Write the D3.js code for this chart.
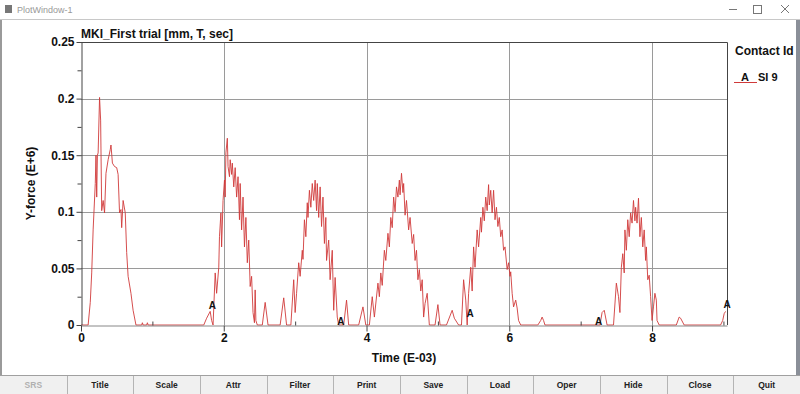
<!DOCTYPE html>
<html>
<head>
<meta charset="utf-8">
<script src="https://cdn.jsdelivr.net/npm/d3@7"></script>
<style>
  body { margin: 0; background: #fff; }
  text { font-family: "Liberation Sans", Arial, sans-serif; }
</style>
</head>
<body>
<div class="my_div"></div>
<script>
// Contact force samples (time in E-03 s, force in E+6)
var timeVals = [0, 0.10, 0.13, 0.15, 0.17, 0.20, 0.21, 0.22, 0.23, 0.24, 0.26, 0.275, 0.29, 0.31, 0.33, 0.35, 0.38, 0.41, 0.42, 0.44,
    0.47, 0.50, 0.52, 0.54, 0.56, 0.57, 0.59, 0.62, 0.64, 0.66, 0.70, 0.73, 0.77, 0.85, 0.86, 0.87, 0.92, 0.93, 0.94, 1.72,
    1.76, 1.81, 1.83, 1.85, 1.88, 1.90, 1.93, 1.94, 1.96, 1.97, 1.99, 2.01, 2.02, 2.03, 2.05, 2.06, 2.08, 2.09, 2.11, 2.12,
    2.14, 2.16, 2.18, 2.20, 2.22, 2.23, 2.25, 2.27, 2.29, 2.31, 2.33, 2.35, 2.37, 2.39, 2.41, 2.43, 2.44, 2.45, 2.47, 2.54,
    2.58, 2.62, 2.79, 2.84, 2.88, 2.94, 2.98, 3.00, 3.02, 3.05, 3.07, 3.10, 3.11, 3.13, 3.15, 3.17, 3.18, 3.20, 3.22, 3.24,
    3.26, 3.28, 3.30, 3.31, 3.33, 3.35, 3.37, 3.39, 3.41, 3.43, 3.44, 3.47, 3.49, 3.52, 3.54, 3.56, 3.59, 3.61, 3.68, 3.72,
    3.75, 3.89, 3.95, 3.99, 4.04, 4.08, 4.11, 4.16, 4.18, 4.20, 4.22, 4.25, 4.27, 4.30, 4.32, 4.34, 4.36, 4.38, 4.40, 4.42,
    4.44, 4.46, 4.47, 4.49, 4.51, 4.52, 4.54, 4.56, 4.59, 4.61, 4.64, 4.66, 4.68, 4.70, 4.72, 4.74, 4.76, 4.78, 4.80, 4.82,
    4.85, 4.88, 4.96, 5.00, 5.03, 5.12, 5.20, 5.23, 5.29, 5.33, 5.36, 5.39, 5.41, 5.43, 5.46, 5.48, 5.50, 5.52, 5.55, 5.57,
    5.60, 5.61, 5.63, 5.65, 5.67, 5.69, 5.71, 5.72, 5.74, 5.76, 5.78, 5.80, 5.82, 5.84, 5.86, 5.88, 5.90, 5.92, 5.94, 5.97,
    5.99, 6.01, 6.02, 6.04, 6.06, 6.09, 6.11, 6.13, 6.16, 6.40, 6.44, 6.46, 6.48, 6.50, 7.27, 7.30, 7.33, 7.37, 7.46, 7.50,
    7.53, 7.55, 7.57, 7.59, 7.61, 7.62, 7.64, 7.66, 7.68, 7.70, 7.72, 7.74, 7.76, 7.77, 7.79, 7.81, 7.83, 7.85, 7.87, 7.89,
    7.91, 7.92, 7.94, 7.96, 7.98, 8.00, 8.02, 8.04, 8.06, 8.07, 8.10, 8.34, 8.38, 8.40, 8.45, 8.96, 8.99, 9.01, 9.03];

var forceVals = [0, 0, 0.020, 0.046, 0.084, 0.125, 0.150, 0.113, 0.150, 0.152, 0.201, 0.181, 0.101, 0.110, 0.099, 0.134, 0.146, 0.155, 0.159, 0.143,
    0.140, 0.139, 0.133, 0.099, 0.102, 0.086, 0.110, 0.099, 0.064, 0.043, 0.028, 0.013, 0, 0, 0.002, 0, 0, 0.002, 0, 0,
    0.006, 0.012, 0.004, 0, 0.046, 0.028, 0.051, 0.078, 0.099, 0.069, 0.110, 0.128, 0.113, 0.152, 0.165, 0.140, 0.131, 0.146, 0.133, 0.143,
    0.122, 0.139, 0.113, 0.131, 0.093, 0.125, 0.084, 0.113, 0.069, 0.095, 0.055, 0.075, 0.034, 0.043, 0.011, 0.002, 0.031, 0.004, 0, 0,
    0.020, 0, 0, 0.024, 0, 0, 0.040, 0.011, 0.028, 0.055, 0.043, 0.066, 0.058, 0.093, 0.078, 0.108, 0.095, 0.119, 0.104, 0.125,
    0.110, 0.128, 0.101, 0.125, 0.095, 0.122, 0.087, 0.113, 0.072, 0.095, 0.057, 0.075, 0.040, 0.066, 0.013, 0.042, 0.007, 0, 0, 0.022,
    0, 0, 0.016, 0, 0, 0.025, 0.007, 0.037, 0.025, 0.046, 0.035, 0.066, 0.057, 0.081, 0.069, 0.095, 0.086, 0.113, 0.100, 0.122,
    0.113, 0.128, 0.115, 0.134, 0.117, 0.125, 0.097, 0.110, 0.084, 0.095, 0.072, 0.080, 0.057, 0.066, 0.040, 0.049, 0.030, 0.040, 0.007, 0.019,
    0.028, 0, 0, 0.018, 0, 0, 0.013, 0.006, 0, 0, 0.040, 0.022, 0, 0.028, 0.051, 0.030, 0.069, 0.051, 0.084, 0.069,
    0.095, 0.082, 0.104, 0.092, 0.113, 0.101, 0.124, 0.106, 0.119, 0.099, 0.119, 0.093, 0.104, 0.087, 0.095, 0.078, 0.084, 0.066, 0.069, 0.049,
    0.055, 0.043, 0.047, 0.028, 0.016, 0.022, 0.015, 0.004, 0, 0, 0.004, 0.007, 0.004, 0, 0, 0.011, 0.013, 0, 0, 0.037,
    0.025, 0.011, 0.051, 0.063, 0.046, 0.084, 0.066, 0.093, 0.078, 0.099, 0.090, 0.110, 0.092, 0.104, 0.090, 0.112, 0.078, 0.095, 0.069, 0.084,
    0.057, 0.069, 0.040, 0.044, 0.025, 0.004, 0.016, 0.028, 0.022, 0.004, 0, 0, 0.007, 0.006, 0, 0, 0.004, 0.010, 0.012];

// Curve label "A" positions
var markerX = [1.84, 3.64, 5.45, 7.25, 9.05];
var markerY = [0.017, 0.003, 0.010, 0.003, 0.018];

var xTicks = [0, 2, 4, 6, 8];
var xMinor = [1, 3, 5, 7, 9];
var yTicks = [0, 0.05, 0.1, 0.15, 0.2, 0.25];
var yMinor = [0.025, 0.075, 0.125, 0.175, 0.225];

var buttons = ["SRS", "Title", "Scale", "Attr", "Filter", "Print", "Save", "Load", "Oper", "Hide", "Close", "Quit"];

var W = 800, H = 394;
var plotL = 81, plotR = 727, plotT = 42, plotB = 325;

var data = timeVals.map((t, i) => { return { t: t, f: forceVals[i] } });

var xScale = d3.scaleLinear().domain([0, 9.05]).range([plotL, plotR]);
var yScale = d3.scaleLinear().domain([0, 0.25]).range([plotB, plotT]);

var svg = d3.select(".my_div")
    .append("svg")
    .attr("width", W)
    .attr("height", H)

// Window chrome
svg.append("rect").attr("width", W).attr("height", H).attr("fill", "#fff")
svg.append("line").attr("x1", 0).attr("x2", W).attr("y1", 19.5).attr("y2", 19.5).attr("stroke", "#c8c8c8")
svg.append("rect").attr("x", 0).attr("y", 20).attr("width", 2).attr("height", 355).attr("fill", "#9a9a9a")
svg.append("rect").attr("x", 796).attr("y", 20).attr("width", 4).attr("height", 355).attr("fill", "#8a8f98")
svg.append("rect").attr("x", 5).attr("y", 5).attr("width", 7).attr("height", 8).attr("fill", "#777")
svg.append("text").text("PlotWindow-1").attr("x", 17).attr("y", 13)
    .attr("font-size", 9).attr("fill", "#999")
svg.append("line").attr("x1", 729).attr("x2", 737).attr("y1", 9.5).attr("y2", 9.5).attr("stroke", "#777")
svg.append("rect").attr("x", 753.5).attr("y", 5.5).attr("width", 8).attr("height", 8).attr("fill", "none").attr("stroke", "#777")
svg.append("path").attr("d", "M781,5L789,13M789,5L781,13").attr("stroke", "#777")

// Button row
var bw = W / buttons.length;
var bar = svg.append("g").attr("transform", "translate(0,375)")
bar.append("rect").attr("width", W).attr("height", 19).attr("fill", "#f0f0f0")
bar.append("line").attr("x1", 0).attr("x2", W).attr("y1", 0.5).attr("y2", 0.5).attr("stroke", "#a0a0a0")
bar.selectAll(".sep")
    .data(buttons.slice(1))
    .enter()
    .append("line")
    .attr("x1", (d, i) => { return Math.round((i + 1) * bw) + 0.5 })
    .attr("x2", (d, i) => { return Math.round((i + 1) * bw) + 0.5 })
    .attr("y1", 1).attr("y2", 19)
    .attr("stroke", "#b4b4b4")
bar.selectAll(".btn")
    .data(buttons)
    .enter()
    .append("text")
    .text((d) => { return d })
    .attr("x", (d, i) => { return (i + 0.5) * bw })
    .attr("y", 13)
    .attr("text-anchor", "middle")
    .attr("font-size", 8.5)
    .attr("font-weight", "bold")
    .attr("fill", (d, i) => { return i == 0 ? "#b0b0b0" : "#222" })

// Gridlines
var g = svg.append("g")
g.selectAll(".hgrid")
    .data(yTicks.slice(1, -1))
    .enter()
    .append("line")
    .attr("x1", plotL).attr("x2", plotR)
    .attr("y1", (d) => { return Math.round(yScale(d)) + 0.5 })
    .attr("y2", (d) => { return Math.round(yScale(d)) + 0.5 })
    .attr("stroke", "#9a9a9a")
g.selectAll(".vgrid")
    .data(xTicks.slice(1))
    .enter()
    .append("line")
    .attr("x1", (d) => { return Math.round(xScale(d)) + 0.5 })
    .attr("x2", (d) => { return Math.round(xScale(d)) + 0.5 })
    .attr("y1", plotT).attr("y2", plotB)
    .attr("stroke", "#9a9a9a")

// Frame top/right
g.append("path")
    .attr("d", "M" + plotL + "," + (plotT + 0.5) + "H" + (plotR + 0.5) + "V" + plotB)
    .attr("fill", "none")
    .attr("stroke", "#444")

// Curve
var line = d3.line()
    .x((d) => { return xScale(d.t) })
    .y((d) => { return yScale(d.f) })

g.append("path")
    .datum(data)
    .attr("d", line)
    .attr("fill", "none")
    .attr("stroke", "#d03a3a")
    .attr("stroke-width", 0.9)

// Axes
var yAxis = g.append("g")
    .attr("transform", "translate(" + (plotL + 0.5) + ",0)")
    .call(d3.axisLeft(yScale).tickValues(yTicks).tickSize(5).tickPadding(2).tickSizeOuter(0)
        .tickFormat((d) => { return String(+d.toFixed(3)) }))
yAxis.selectAll(".tick text").attr("font-size", 12).attr("font-weight", "bold")
    .attr("font-family", "Liberation Sans, Arial, sans-serif").attr("fill", "#111")
yAxis.select(".domain").attr("stroke", "#444")
yAxis.selectAll(".tick line").attr("stroke", "#444")
g.append("g")
    .attr("transform", "translate(" + (plotL + 0.5) + ",0)")
    .call(d3.axisLeft(yScale).tickValues(yMinor).tickSize(4).tickFormat(""))
    .call((s) => { s.select(".domain").remove(); s.selectAll("line").attr("stroke", "#444") })

var xAxis = g.append("g")
    .attr("transform", "translate(0," + (plotB + 0.5) + ")")
    .call(d3.axisBottom(xScale).tickValues(xTicks).tickSize(6).tickPadding(2).tickSizeOuter(0))
xAxis.selectAll(".tick text").attr("font-size", 12).attr("font-weight", "bold")
    .attr("font-family", "Liberation Sans, Arial, sans-serif").attr("fill", "#111")
xAxis.select(".domain").attr("stroke", "#888")
xAxis.selectAll(".tick line").attr("stroke", "#444")
g.append("g")
    .attr("transform", "translate(0," + (plotB + 0.5) + ")")
    .call(d3.axisTop(xScale).tickValues(xMinor).tickSize(4).tickFormat(""))
    .call((s) => { s.select(".domain").remove(); s.selectAll("line").attr("stroke", "#444") })

// Curve labels
g.selectAll(".marker")
    .data(markerX)
    .enter()
    .append("text")
    .text("A")
    .attr("x", (d) => { return xScale(d) })
    .attr("y", (d, i) => { return yScale(markerY[i]) })
    .attr("dy", "0.35em")
    .attr("text-anchor", "middle")
    .attr("font-size", 10)
    .attr("font-weight", "bold")
    .attr("fill", "#111")

// Titles
svg.append("text").text("MKI_First trial [mm, T, sec]")
    .attr("x", plotL).attr("y", 38)
    .attr("font-size", 12).attr("font-weight", "bold").attr("fill", "#111")
svg.append("text").text("Time (E-03)")
    .attr("x", (plotL + plotR) / 2).attr("y", 362)
    .attr("text-anchor", "middle")
    .attr("font-size", 12).attr("font-weight", "bold").attr("fill", "#111")
svg.append("text").text("Y-force (E+6)")
    .attr("transform", "translate(35," + ((plotT + plotB) / 2) + ") rotate(-90)")
    .attr("text-anchor", "middle")
    .attr("font-size", 12).attr("font-weight", "bold").attr("fill", "#111")

// Legend
svg.append("text").text("Contact Id")
    .attr("x", 735).attr("y", 55)
    .attr("font-size", 12).attr("font-weight", "bold").attr("fill", "#111")
svg.append("line").attr("x1", 734).attr("x2", 757).attr("y1", 82.5).attr("y2", 82.5).attr("stroke", "#d03a3a")
svg.append("text").text("A").attr("x", 745).attr("y", 81)
    .attr("text-anchor", "middle").attr("font-size", 11).attr("font-weight", "bold").attr("fill", "#111")
svg.append("text").text("SI 9").attr("x", 758).attr("y", 81)
    .attr("font-size", 11).attr("font-weight", "bold").attr("fill", "#111")
</script>
</body>
</html>
